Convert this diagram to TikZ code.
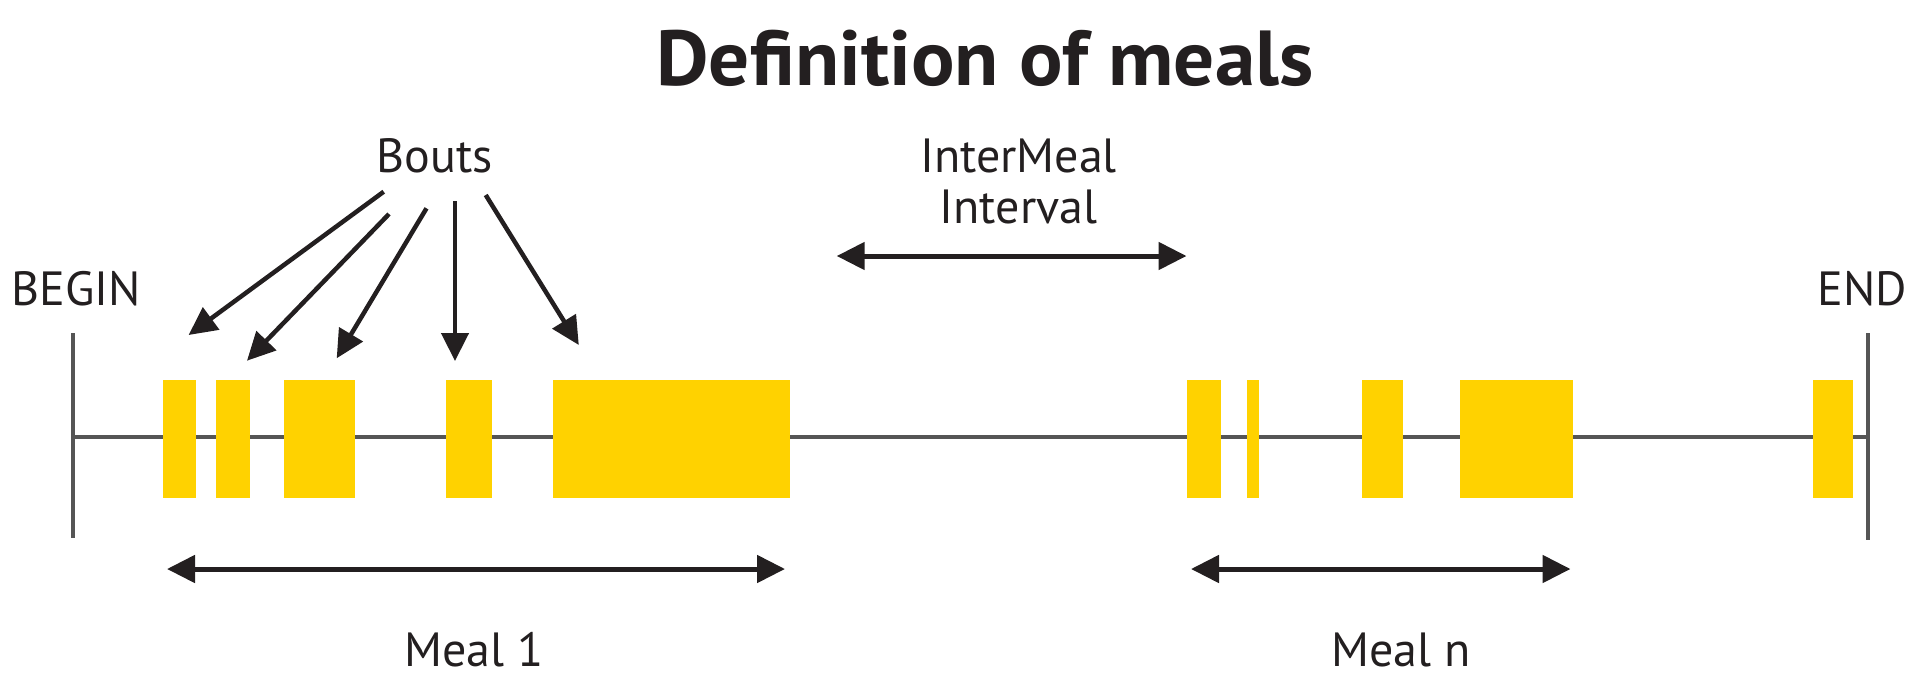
\documentclass[tikz,border=0pt]{standalone}
\usepackage{fontspec}
\setmainfont{PT Sans}
\usetikzlibrary{arrows.meta}
\definecolor{ink}{HTML}{231F20}
\definecolor{boutfill}{HTML}{FFD200}
\definecolor{axis}{HTML}{555555}
\tikzset{
  x=1pt, y=-1pt,
  lbl/.style={font=\fontsize{48}{52}\selectfont, text=ink, inner sep=0pt, anchor=base},
  ttl/.style={font=\fontsize{78}{82}\selectfont\bfseries, text=ink, inner sep=0pt, anchor=base, xscale=1.04},
  bout/.style={fill=boutfill, draw=none, inner sep=0pt, minimum height=118pt, anchor=north west},
  axisline/.style={draw=axis, line width=4pt},
  ptr/.style={draw=ink, line width=4.5pt, -{Triangle[length=28pt, width=27pt]}},
  span/.style={draw=ink, line width=5pt, {Triangle[length=28pt, width=27pt]}-{Triangle[length=28pt, width=27pt]}}
}
\begin{document}
\begin{tikzpicture}
\useasboundingbox (0,0) rectangle (1920,697);
% title
\node[ttl] (title) at (985,85) {Definition of meals};
% axis
\coordinate (bt) at (72.5,333);
\coordinate (bb) at (72.5,538);
\coordinate (et) at (1868,333);
\coordinate (eb) at (1868,540);
\coordinate (al) at (72.5,437);
\coordinate (ar) at (1870,437);
\draw[axisline] (al) -- (ar);
\draw[axisline] (bt) -- (bb);
\draw[axisline] (et) -- (eb);
% bouts
\node[bout, minimum width=33.5pt] (b1) at (162.4,380) {};
\node[bout, minimum width=34.3pt] (b2) at (215.5,380) {};
\node[bout, minimum width=71pt] (b3) at (283.3,380) {};
\node[bout, minimum width=45.7pt] (b4) at (445.7,380) {};
\node[bout, minimum width=237pt] (b5) at (553,380) {};
\node[bout, minimum width=34.2pt] (b6) at (1186.8,380) {};
\node[bout, minimum width=11.5pt] (b7) at (1246.8,380) {};
\node[bout, minimum width=41pt] (b8) at (1362,380) {};
\node[bout, minimum width=113pt] (b9) at (1459.5,380) {};
\node[bout, minimum width=40.5pt] (b10) at (1812.5,380) {};
% labels
\node[lbl] (begin) at (76.5,305) {BEGIN};
\node[lbl] (end) at (1862.5,305) {END};
\node[lbl] (bouts) at (434.7,172) {Bouts};
\node[lbl] (im1) at (1018.5,172) {InterMeal};
\node[lbl] (im2) at (1018.5,223) {Interval};
\node[lbl] (meal1) at (474,666) {Meal 1};
\node[lbl] (mealn) at (1401,666) {Meal n};
% bout pointers
\coordinate (s1) at (383.7,191.7); \coordinate (t1) at (188.6,335);
\coordinate (s2) at (389,214);     \coordinate (t2) at (247,360.7);
\coordinate (s3) at (426.5,208.3); \coordinate (t3) at (336.7,358.3);
\coordinate (s4) at (455,201);     \coordinate (t4) at (455,361);
\coordinate (s5) at (485.7,195);   \coordinate (t5) at (578.8,345);
\draw[ptr] (s1) -- (t1);
\draw[ptr] (s2) -- (t2);
\draw[ptr] (s3) -- (t3);
\draw[ptr] (s4) -- (t4);
\draw[ptr] (s5) -- (t5);
% spans
\coordinate (iml) at (836.7,256); \coordinate (imr) at (1186.5,256);
\coordinate (m1l) at (167,569);   \coordinate (m1r) at (785,569);
\coordinate (mnl) at (1191,569);  \coordinate (mnr) at (1570.5,569);
\draw[span] (iml) -- (imr);
\draw[span] (m1l) -- (m1r);
\draw[span] (mnl) -- (mnr);
\end{tikzpicture}
\end{document}
